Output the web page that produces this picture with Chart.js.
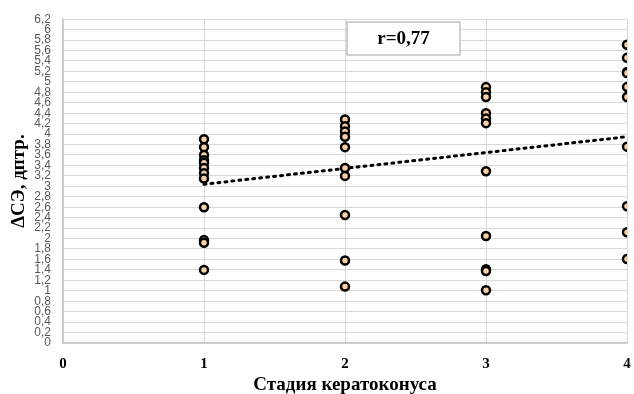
<!DOCTYPE html>
<html>
<head>
<meta charset="utf-8">
<script src="https://cdn.jsdelivr.net/npm/chart.js@4"></script>
<style>
  html, body { margin: 0; padding: 0; background: #fff; }
  #wrap { width: 634px; height: 394px; }
</style>
</head>
<body>
<div id="wrap"><canvas id="chart" width="634" height="394"></canvas></div>
<script>
// stage of keratoconus -> measured values (ΔСЭ, дптр.)
const stages = [1, 2, 3, 4];
const stage1 = [3.9, 3.75, 3.6, 3.5, 3.45, 3.35, 3.25, 3.15, 2.6, 1.97, 1.92, 1.4];
const stage2 = [4.28, 4.15, 4.05, 3.95, 3.75, 3.35, 3.2, 2.45, 1.58, 1.08];
const stage3 = [4.9, 4.8, 4.71, 4.4, 4.3, 4.21, 3.29, 2.05, 1.41, 1.38, 1.01];
const stage4 = [5.71, 5.46, 5.19, 5.17, 4.9, 4.71, 3.76, 2.62, 2.12, 1.61];

// linear trend end points
const trendX = [1, 4];
const trendY = [3.04, 3.95];

const corrLabel = 'r=0,77';

const allStages = [stage1, stage2, stage3, stage4];
let points = [];
allStages.forEach((vals, i) => {
    vals.forEach(v => points.push({x: stages[i], y: v}));
});
const trend = trendX.map((x, i) => ({x: x, y: trendY[i]}));

const serif = '"Liberation Serif", "Times New Roman", serif';

// draws the framed r= label
const corrBox = {
    id: 'corrBox',
    afterDatasetsDraw(chart) {
        const ctx = chart.ctx;
        const x = 347, y = 22, w = 113, h = 33;
        ctx.save();
        ctx.fillStyle = '#fff';
        ctx.fillRect(x, y, w, h);
        ctx.strokeStyle = '#c0c0c0';
        ctx.lineWidth = 1.5;
        ctx.strokeRect(x, y, w, h);
        ctx.fillStyle = '#000';
        ctx.font = 'bold 19px ' + serif;
        ctx.textAlign = 'center';
        ctx.textBaseline = 'middle';
        ctx.fillText(corrLabel, x + w / 2, y + h / 2 + 1);
        ctx.restore();
    }
};

new Chart(document.getElementById('chart'), {
    type: 'scatter',
    data: {
        datasets: [{
            label: 'points',
            data: points,
            backgroundColor: '#fbcfa6',
            borderColor: '#000',
            borderWidth: 2.5,
            pointRadius: 4,
            pointHoverRadius: 4,
            order: 0
        }, {
            label: 'trend',
            type: 'line',
            data: trend,
            borderColor: '#000',
            borderWidth: 3,
            borderDash: [2, 5],
            borderCapStyle: 'round',
            pointRadius: 0,
            fill: false,
            order: 1
        }]
    },
    options: {
        responsive: false,
        animation: false,
        layout: { padding: { top: 16, right: 7, left: 0, bottom: 0 } },
        plugins: { legend: { display: false }, tooltip: { enabled: false } },
        scales: {
            x: {
                type: 'linear',
                min: 0,
                max: 4,
                afterFit(scale) {
                    scale.height = 51;
                    scale.paddingLeft = 0;
                    scale.paddingRight = 0;
                },
                ticks: {
                    stepSize: 1,
                    color: '#000',
                    padding: 12,
                    font: { family: serif, size: 15, weight: 'bold' }
                },
                grid: { color: '#d9d9d9', drawTicks: false },
                border: { color: '#c8c8c8', width: 1.5 },
                title: {
                    display: true,
                    text: 'Стадия кератоконуса',
                    color: '#000',
                    font: { family: serif, size: 19, weight: 'bold', lineHeight: 1 },
                    padding: { top: 0, bottom: -1 }
                }
            },
            y: {
                min: 0,
                max: 6.2,
                afterFit(scale) { scale.width = 63; },
                ticks: {
                    stepSize: 0.2,
                    autoSkip: false,
                    color: '#595959',
                    padding: 12,
                    font: { family: '"Liberation Sans", Arial, sans-serif', size: 12 },
                    callback: v => String(Math.round(v * 10) / 10).replace('.', ',')
                },
                grid: { color: '#d9d9d9', drawTicks: false },
                border: { color: '#c8c8c8', width: 1.5 },
                title: {
                    display: true,
                    text: 'ΔСЭ, дптр.',
                    color: '#000',
                    font: { family: serif, size: 19, weight: 'bold', lineHeight: 1 },
                    padding: { top: 10, bottom: 0 }
                }
            }
        }
    },
    plugins: [corrBox]
});
</script>
</body>
</html>
